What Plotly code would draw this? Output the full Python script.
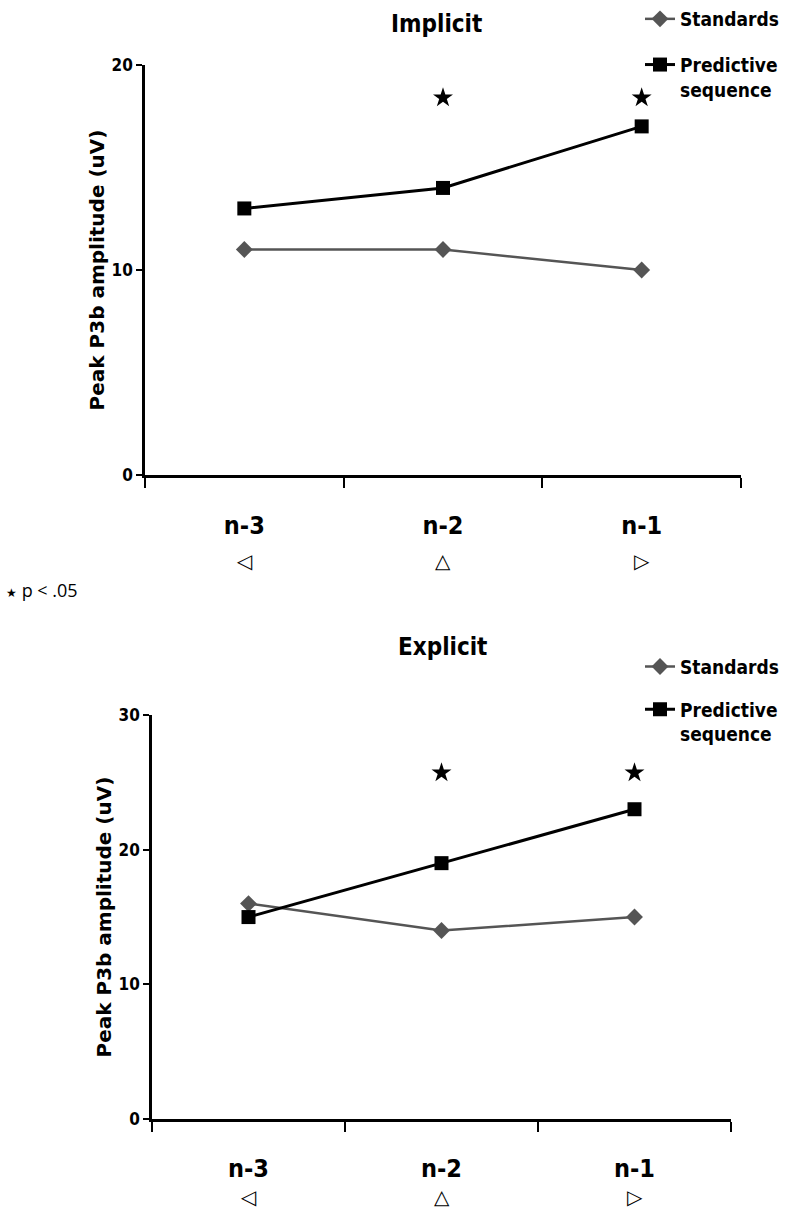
import plotly.graph_objects as go

positions = ["n-3", "n-2", "n-1"]
cue_symbols = ["◁", "△", "▷"]

implicit_standards = [11, 11, 10]
implicit_predictive = [13, 14, 17]
implicit_sig_positions = ["n-2", "n-1"]
implicit_sig_level = [18.4, 18.4]

explicit_standards = [16, 14, 15]
explicit_predictive = [15, 19, 23]
explicit_sig_positions = ["n-2", "n-1"]
explicit_sig_level = [25.7, 25.7]

implicit_yticks = [0, 10, 20]
explicit_yticks = [0, 10, 20, 30]

W, H = 786, 1217
NARROW = "DejaVu Sans Condensed, Liberation Sans Narrow, Arial Narrow, Liberation Sans, Arial"
WIDE = "DejaVu Sans, Verdana"
STD_COLOR = "#555555"

fig = go.Figure()

panels = [
    dict(xa="x", ya="y", std=implicit_standards, pred=implicit_predictive,
         sigx=implicit_sig_positions, sigy=implicit_sig_level, legend="legend"),
    dict(xa="x2", ya="y2", std=explicit_standards, pred=explicit_predictive,
         sigx=explicit_sig_positions, sigy=explicit_sig_level, legend="legend2"),
]

for i, p in enumerate(panels):
    fig.add_trace(go.Scatter(
        x=positions, y=p["std"], xaxis=p["xa"], yaxis=p["ya"], name="Standards",
        mode="lines+markers", line=dict(color=STD_COLOR, width=2.5),
        marker=dict(symbol="diamond", size=13, color=STD_COLOR),
        legend=p["legend"], legendgroup=f"std{i}", cliponaxis=False))
    fig.add_trace(go.Scatter(
        x=positions, y=p["pred"], xaxis=p["xa"], yaxis=p["ya"], name="Predictive<br>sequence",
        mode="lines+markers", line=dict(color="black", width=3),
        marker=dict(symbol="square", size=14, color="black"),
        legend=p["legend"], legendgroup=f"pred{i}", cliponaxis=False))
    fig.add_trace(go.Scatter(
        x=p["sigx"], y=p["sigy"], xaxis=p["xa"], yaxis=p["ya"], mode="markers",
        marker=dict(symbol="star", size=15, color="black"), showlegend=False,
        cliponaxis=False, hoverinfo="skip"))

def px_x(v):
    return v / W

def px_y(v):
    return (H - v) / H

xcommon = dict(type="category", categoryorder="array", categoryarray=positions,
               range=[-0.5, 2.5], tickson="boundaries", ticks="outside", ticklen=10,
               tickwidth=2, tickcolor="black", showline=True, linecolor="black",
               linewidth=2.5, showgrid=False, zeroline=False,
               tickfont=dict(family=NARROW, size=25, color="black", weight="bold"))
ycommon = dict(ticks="outside", ticklen=6, tickwidth=2, tickcolor="black",
               showline=True, linecolor="black", linewidth=2.5, showgrid=False,
               zeroline=False,
               tickfont=dict(family=NARROW, size=17, color="black", weight="bold"),
               title=dict(text="Peak P3b amplitude (uV)",
                          font=dict(family=WIDE, size=20, color="black", weight="bold")))

legend_common = dict(x=px_x(640), xanchor="left", yanchor="top", valign="top",
                     font=dict(family=NARROW, size=19, color="black", weight="bold"),
                     bgcolor="rgba(0,0,0,0)", itemwidth=30)

fig.update_layout(
    width=W, height=H, margin=dict(l=0, r=0, t=0, b=0),
    paper_bgcolor="white", plot_bgcolor="white", showlegend=True,
    xaxis=dict(xcommon, domain=[px_x(145), px_x(741)], anchor="y", ticklabelstandoff=26),
    yaxis=dict(ycommon, domain=[px_y(466), px_y(45)], range=[0, 20], tickvals=implicit_yticks,
               anchor="x", title_standoff=2),
    xaxis2=dict(xcommon, domain=[px_x(152), px_x(731)], anchor="y2", ticklabelstandoff=25),
    yaxis2=dict(ycommon, domain=[px_y(1127), px_y(712)], range=[0, 30], tickvals=explicit_yticks,
                anchor="x2", title_standoff=2),
    legend=dict(legend_common, y=1.0 + 22 / H, tracegroupgap=18),
    legend2=dict(legend_common, y=px_y(643), tracegroupgap=15),
)

annotations = [
    dict(text="Implicit", x=px_x(437), y=px_y(3), xref="paper", yref="paper",
         yanchor="middle", showarrow=False,
         font=dict(family=NARROW, size=24, color="black", weight="bold")),
    dict(text="Explicit", x=px_x(443), y=px_y(642), xref="paper", yref="paper",
         yanchor="middle", showarrow=False,
         font=dict(family=NARROW, size=24, color="black", weight="bold")),
    dict(text="<span style='font-size:12px'>★</span> p < .05", x=px_x(4), y=px_y(584),
         xref="paper", yref="paper", xanchor="left", yanchor="middle", showarrow=False,
         font=dict(family="Open Sans, Noto Sans", size=18, color="black")),
]
for cat, sym in zip(positions, cue_symbols):
    annotations.append(dict(text=sym, x=cat, xref="x", y=px_y(554), yref="paper",
                            yanchor="middle", showarrow=False,
                            font=dict(family="DejaVu Sans", size=20, color="black")))
    annotations.append(dict(text=sym, x=cat, xref="x2", y=px_y(1207), yref="paper",
                            yanchor="middle", showarrow=False,
                            font=dict(family="DejaVu Sans", size=20, color="black")))
fig.update_layout(annotations=annotations)

fig.write_html("out.html", config={"displayModeBar": False},
               post_script="document.body.style.margin='0';")
